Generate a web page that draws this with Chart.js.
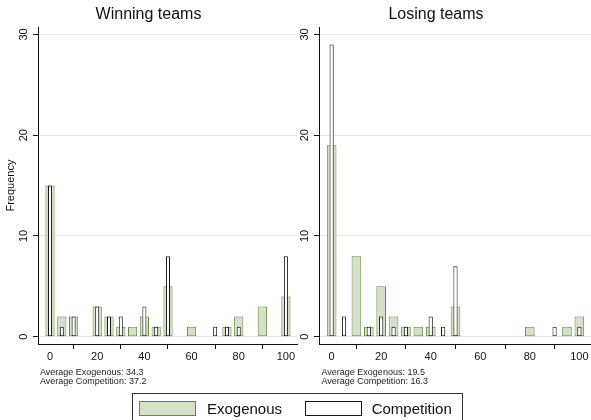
<!DOCTYPE html>
<html>
<head>
<meta charset="utf-8">
<script src="https://cdn.jsdelivr.net/npm/chart.js@4.4.1/dist/chart.umd.min.js"></script>
<style>
  html, body { margin: 0; padding: 0; background: #fff; overflow: hidden; width: 591px; height: 420px; }
  body { position: relative; font-family: "Liberation Sans", Arial, sans-serif; color: #111; }
  canvas { position: absolute; top: 0; }
  #cWin { left: 0; }
  #cLose { left: 281px; }
  .note { position: absolute; top: 368px; font-size: 9px; line-height: 8.7px; color: #222; white-space: nowrap; }
  #legend { position: absolute; left: 132px; top: 393px; width: 331px; height: 32px; border: 1px solid #333; box-sizing: border-box; }
  #legend .sw { position: absolute; top: 6.7px; width: 57px; height: 15px; box-sizing: border-box; }
  #legend .lt { position: absolute; top: 6px; font-size: 15px; line-height: 17px; color: #111; white-space: nowrap; }
</style>
</head>
<body>
<canvas id="cWin" width="335" height="380"></canvas>
<canvas id="cLose" width="348" height="380"></canvas>
<div class="note" id="noteWin" style="left:40px"></div>
<div class="note" id="noteLose" style="left:321.5px"></div>
<div id="legend"></div>
<script>
// Histogram bins (percent) and frequencies per panel
const winningExoBins     = [0, 5, 10, 20, 25, 30, 35, 40, 45, 50, 60, 75, 80, 90, 100];
const winningExogenous   = [15, 2, 2, 3, 2, 1, 1, 2, 1, 5, 1, 1, 2, 3, 4];
const winningCompBins    = [0, 5, 10, 20, 25, 30, 40, 45, 50, 70, 75, 80, 100];
const winningCompetition = [15, 1, 2, 3, 2, 2, 3, 1, 8, 1, 1, 1, 8];

const losingExoBins      = [0, 10, 15, 20, 25, 30, 35, 40, 50, 80, 95, 100];
const losingExogenous    = [19, 8, 1, 5, 2, 1, 1, 1, 3, 1, 1, 2];
const losingCompBins     = [0, 5, 15, 20, 25, 30, 40, 45, 50, 90, 100];
const losingCompetition  = [29, 2, 1, 2, 1, 1, 2, 1, 7, 1, 1];

const xTicks = [0, 20, 40, 60, 80, 100];
const yTicks = [0, 10, 20, 30];
const panelTitles = ['Winning teams', 'Losing teams'];
const seriesNames = ['Exogenous', 'Competition'];
const winningAverages = ['34.3', '37.2'];
const losingAverages = ['19.5', '16.3'];

const exoFill = 'rgb(214,223,203)';
const exoLine = 'rgb(104,137,64)';
const compFill = '#ffffff';
const compLine = '#151515';

Chart.defaults.font.family = '"Liberation Sans", Arial, sans-serif';
Chart.defaults.color = '#111';

function points(bins, vals) {
  return bins.map((b, i) => ({ x: b, y: vals[i] }));
}

function makePanel(id, title, exoBins, exoVals, compBins, compVals, showYTitle) {
  return new Chart(document.getElementById(id), {
    type: 'bar',
    data: {
      datasets: [
        {
          label: seriesNames[1], data: points(compBins, compVals),
          backgroundColor: compFill, borderColor: compLine, borderWidth: 1,
          borderSkipped: false, grouped: false, categoryPercentage: 1, barPercentage: 0.34
        },
        {
          label: seriesNames[0], data: points(exoBins, exoVals),
          backgroundColor: exoFill, borderColor: exoLine, borderWidth: 1,
          borderSkipped: false, grouped: false, categoryPercentage: 1, barPercentage: 0.78
        }
      ]
    },
    options: {
      responsive: false,
      animation: false,
      devicePixelRatio: 1,
      events: [],
      layout: { padding: { left: 0, right: 38, top: 0, bottom: 0 } },
      plugins: {
        legend: { display: false },
        tooltip: { enabled: false },
        title: {
          display: true, text: title, color: '#111',
          font: { size: 16, weight: 'normal' },
          padding: { top: 5, bottom: 3 }
        }
      },
      scales: {
        x: {
          type: 'linear', min: -5.1, max: 104.7, offset: false,
          afterBuildTicks: s => { s.ticks = xTicks.map(v => ({ value: v })); },
          grid: { drawOnChartArea: false, drawTicks: true, tickLength: 5, tickColor: '#111', tickWidth: 1 },
          border: { display: true, color: '#111', width: 1 },
          ticks: { color: '#111', font: { size: 11 }, padding: 1, maxRotation: 0, autoSkip: false },
          afterFit: s => { s.height = 36; }
        },
        y: {
          type: 'linear', min: -0.72, max: 30.72,
          afterBuildTicks: s => { s.ticks = yTicks.map(v => ({ value: v })); },
          grid: { color: '#e8e8e8', lineWidth: 1, drawTicks: true, tickLength: 5, tickColor: '#111', tickWidth: 1 },
          border: { display: true, color: '#111', width: 1 },
          ticks: { color: '#111', font: { size: 11 }, minRotation: 90, maxRotation: 90, crossAlign: 'center', padding: 3, autoSkip: false },
          title: { display: showYTitle, text: 'Frequency', color: '#111', font: { size: 11 }, padding: { top: 4, bottom: 0 } },
          afterFit: s => { s.width = 38; }
        }
      }
    }
  });
}

makePanel('cWin', panelTitles[0], winningExoBins, winningExogenous, winningCompBins, winningCompetition, true);
makePanel('cLose', panelTitles[1], losingExoBins, losingExogenous, losingCompBins, losingCompetition, false);

function fillNote(id, avgs) {
  const el = document.getElementById(id);
  el.innerHTML = 'Average ' + seriesNames[0] + ': ' + avgs[0] + '<br>Average ' + seriesNames[1] + ': ' + avgs[1];
}
fillNote('noteWin', winningAverages);
fillNote('noteLose', losingAverages);

// Shared legend below both panels
const legend = document.getElementById('legend');
const legendItems = [
  { name: seriesNames[0], fill: exoFill, line: exoLine, sw: 6, tx: 74 },
  { name: seriesNames[1], fill: compFill, line: compLine, sw: 172, tx: 238.7 }
];
legendItems.forEach(it => {
  const sw = document.createElement('div');
  sw.className = 'sw';
  sw.style.left = it.sw + 'px';
  sw.style.background = it.fill;
  sw.style.border = '1px solid ' + it.line;
  legend.appendChild(sw);
  const tx = document.createElement('div');
  tx.className = 'lt';
  tx.style.left = it.tx + 'px';
  tx.textContent = it.name;
  legend.appendChild(tx);
});
</script>
</body>
</html>
